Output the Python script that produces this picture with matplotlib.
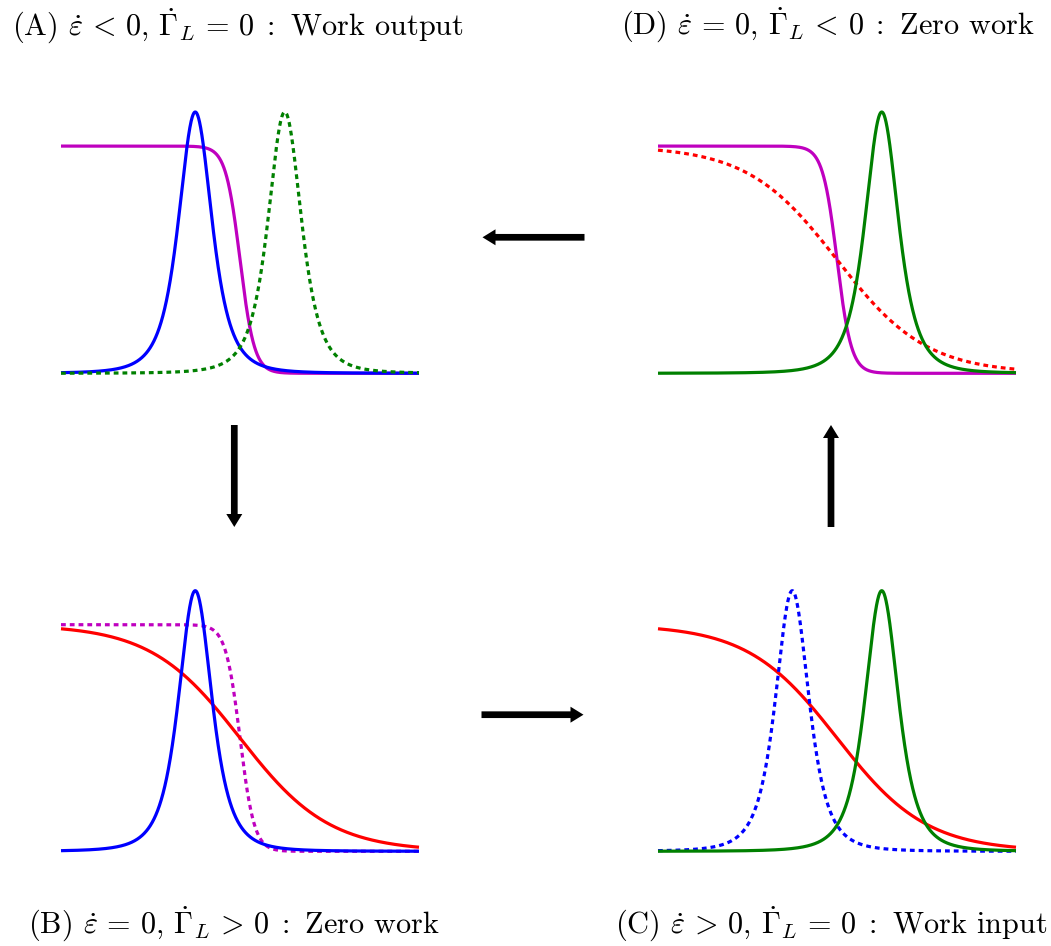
import numpy as np
import matplotlib
matplotlib.use("Agg")
import matplotlib.pyplot as plt
from matplotlib.patches import FancyArrow

plt.rcParams['font.family'] = 'serif'
plt.rcParams['font.serif'] = ['cmr10']
plt.rcParams['mathtext.fontset'] = 'cm'
plt.rcParams['axes.unicode_minus'] = False

# ---------------- data ----------------
energy_range = [-10.0, 10.0]          # energy axis shown in each panel
level_low = -2.5                      # lowered level position
level_high = 2.5                      # raised level position
level_width = 1.7                     # width parameter of the level peak
peak_height = 1.15                    # peak height relative to Fermi plateau
mu = 0.0                              # chemical potential
T_cold = 0.4                          # cold-lead temperature
T_hot = 2.5                           # hot-lead temperature

panel_labels = ["A", "D", "B", "C"]
panel_titles = [
    r"(A) $\dot{\varepsilon}\,<\,0$, $\dot{\Gamma}_L\,=\,0\;:$ Work output",
    r"(D) $\dot{\varepsilon}\,=\,0$, $\dot{\Gamma}_L\,<\,0\;:$ Zero work",
    r"(B) $\dot{\varepsilon}\,=\,0$, $\dot{\Gamma}_L\,>\,0\;:$ Zero work",
    r"(C) $\dot{\varepsilon}\,>\,0$, $\dot{\Gamma}_L\,=\,0\;:$ Work input",
]
# curves per panel: (kind, parameter)
panel_curves = {
    "A": [("fermi", T_cold), ("level", level_low), ("level", level_high)],
    "D": [("fermi", T_cold), ("fermi", T_hot), ("level", level_high)],
    "B": [("fermi", T_cold), ("fermi", T_hot), ("level", level_low)],
    "C": [("fermi", T_hot), ("level", level_low), ("level", level_high)],
}
# ---------------- styles ----------------
panel_styles = {
    "A": [("m", "-"), ("b", "-"), ("g", "dot")],
    "D": [("m", "-"), ("r", "dot"), ("g", "-")],
    "B": [("m", "dot"), ("r", "-"), ("b", "-")],
    "C": [("r", "-"), ("b", "dot"), ("g", "-")],
}
FIG_W, FIG_H = 1051, 946
panel_boxes = {   # left, right, bottom(baseline), top in pixels
    "A": (61, 419, 373.3, 112.0),
    "D": (658, 1016, 373.3, 112.0),
    "B": (61, 419, 851.3, 590.7),
    "C": (658, 1016, 851.3, 590.7),
}
title_pos = {"A": (238, 35.5), "D": (828, 34.5), "B": (234, 934), "C": (831, 934)}

E = np.linspace(energy_range[0], energy_range[1], 2001)


def fermi(e, T):
    return 1.0 / (1.0 + np.exp((e - mu) / T))


def level(e, c):
    return peak_height * (level_width**2 / ((e - c)**2 + level_width**2))**2


fig = plt.figure(figsize=(FIG_W / 100, FIG_H / 100), dpi=100)

for lab, title in zip(panel_labels, panel_titles):
    l, r, b, t = panel_boxes[lab]
    ax = fig.add_axes([l / FIG_W, 1 - b / FIG_H, (r - l) / FIG_W, (b - t) / FIG_H])
    ax.set_xlim(*energy_range)
    ax.set_ylim(0, peak_height)
    ax.axis('off')
    for (kind, p), (col, ls) in zip(panel_curves[lab], panel_styles[lab]):
        y = fermi(E, p) if kind == "fermi" else level(E, p)
        style = (0, (1.5, 1.25)) if ls == "dot" else "-"
        ax.plot(E, y, color=col, lw=2.3, linestyle=style, clip_on=False,
                solid_capstyle='butt', dash_capstyle='butt')
    tx, ty = title_pos[lab]
    fig.text(tx / FIG_W, 1 - ty / FIG_H, title, ha='center', va='baseline', fontsize=21.8)

# arrows in pixel coordinates
ov = fig.add_axes([0, 0, 1, 1], zorder=-1)
ov.set_xlim(0, FIG_W)
ov.set_ylim(FIG_H, 0)
ov.axis('off')
arrows = [(584.5, 237.3, -102, 0), (234.3, 425, 0, 102),
          (481.5, 714.7, 102, 0), (831, 527, 0, -102)]
for x0, y0, dx, dy in arrows:
    ov.add_patch(FancyArrow(x0, y0, dx, dy, width=6.7, head_width=16,
                            head_length=13, length_includes_head=True,
                            color='k', lw=0))

fig.savefig("out.png", dpi=100)
